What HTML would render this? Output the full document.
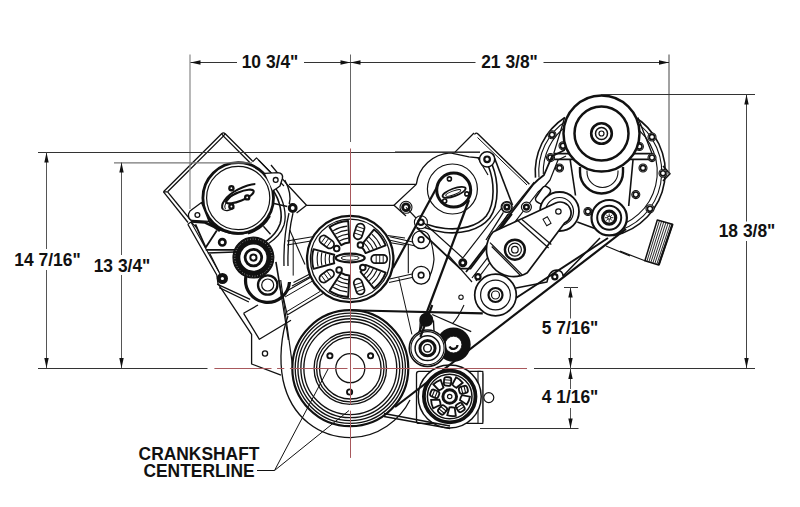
<!DOCTYPE html>
<html><head><meta charset="utf-8">
<style>
html,body{margin:0;padding:0;background:#fff;width:800px;height:507px;overflow:hidden}
svg{display:block}
text{font-family:"Liberation Sans",sans-serif;font-weight:bold;fill:#111}
</style></head>
<body>
<svg width="800" height="507" viewBox="0 0 800 507">
<path d="M163.5,191.8 L221.6,133.7 Q223.4,131.9 225.2,133.7 L252.5,161" fill="none" stroke="#111" stroke-width="1.3" stroke-linejoin="round" />
<path d="M167.6,191.8 L223.4,136.1 L250,162.7" fill="none" stroke="#111" stroke-width="1.3" stroke-linejoin="round" />
<path d="M163.5,191.8 L188,222.5" fill="none" stroke="#111" stroke-width="1.3" stroke-linejoin="round" />
<path d="M167.6,191.8 L191,220.5" fill="none" stroke="#111" stroke-width="1.3" stroke-linejoin="round" />
<path d="M221.6,133.7 L223.4,136.1 L225.2,133.7 M163.5,191.8 L167.6,191.8" fill="none" stroke="#111" stroke-width="1.2" stroke-linejoin="round" />
<path d="M252.5,161.8 L256.5,157.8 L278,180" fill="none" stroke="#111" stroke-width="1.2" stroke-linejoin="round" />
<line x1="258.50" y1="160.00" x2="284.00" y2="186.00" stroke="#111" stroke-width="1.1" />
<path d="M187.8,224.3 L191,222 L197,228" fill="none" stroke="#111" stroke-width="1.1" stroke-linejoin="round" />
<path d="M187.8,224.3 L216.8,275 L218,283.6 L251.6,334.4 L251.6,364 L281,375.2" fill="none" stroke="#111" stroke-width="1.3" stroke-linejoin="round" />
<path d="M191.5,223 L219,272" fill="none" stroke="#111" stroke-width="1.1" stroke-linejoin="round" />
<path d="M217.1,284.2 L250.2,299.4 M219.2,287.6 L248.9,302" fill="none" stroke="#111" stroke-width="1.3" stroke-linejoin="round" />
<path d="M243.6,313.3 L258,305" fill="none" stroke="#111" stroke-width="1.3" stroke-linejoin="round" />
<path d="M243.6,313.3 L259.4,339.3 L291,320.2" fill="none" stroke="#111" stroke-width="1.3" stroke-linejoin="round" />
<circle cx="265.00" cy="353.50" r="2.60" fill="#fff" stroke="#111" stroke-width="1.3" />
<path d="M195.4,224.3 L205.7,247.5 L216.8,230.5" fill="none" stroke="#111" stroke-width="1.8" stroke-linejoin="round" />
<path d="M205.7,249.9 L236,249.9 M207.8,253 L235,252" fill="none" stroke="#111" stroke-width="1.6" stroke-linejoin="round" />
<path d="M 258,227 A 37.5 37.5 0 0 1 205,216" fill="none" stroke="#111" stroke-width="2.0" stroke-linejoin="round" />
<circle cx="222.30" cy="242.30" r="3.20" fill="#fff" stroke="#111" stroke-width="2.6" />
<circle cx="222.40" cy="278.50" r="3.60" fill="#fff" stroke="#111" stroke-width="4.0" />
<path d="M210,254 L220,274" fill="none" stroke="#111" stroke-width="1.2" stroke-linejoin="round" />
<polygon points="282.50,293.60 312.00,276.50 323.90,293.00 287.20,314.90" fill="#fff" stroke="#111" stroke-width="1.2" stroke-linejoin="round"/>
<line x1="285.00" y1="297.00" x2="316.00" y2="279.00" stroke="#111" stroke-width="1.0" />
<line x1="287.00" y1="311.50" x2="320.00" y2="291.50" stroke="#111" stroke-width="1.0" />
<line x1="289.00" y1="184.40" x2="416.30" y2="184.40" stroke="#111" stroke-width="1.3" />
<line x1="306.50" y1="205.30" x2="394.00" y2="205.30" stroke="#111" stroke-width="1.3" />
<path d="M271,165 L287,184.3 L306.5,205.3 L296.6,213" fill="none" stroke="#111" stroke-width="1.3" stroke-linejoin="round" />
<path d="M474,133 L455,152.1 M416.3,184.4 L394,205.3 L406,216" fill="none" stroke="#111" stroke-width="1.3" stroke-linejoin="round" />
<path d="M287,241 L320,235.5 M287,245 L320,239.5" fill="none" stroke="#111" stroke-width="1.1" stroke-linejoin="round" />
<path d="M293.5,282.5 L314.6,271.4 M292,286 L313,275" fill="none" stroke="#111" stroke-width="1.1" stroke-linejoin="round" />
<line x1="293.20" y1="238.30" x2="293.20" y2="275.60" stroke="#111" stroke-width="1.0" />
<line x1="289.70" y1="230.00" x2="305.00" y2="264.50" stroke="#111" stroke-width="1.1" />
<path d="M387.7,235.5 L405,238 M386,242 L404,245" fill="none" stroke="#111" stroke-width="1.1" stroke-linejoin="round" />
<path d="M389.6,236.8 L425,244.7 M389,240 L422,247.5 M389.6,279 L429,270.3 M389,282.5 L428,274" fill="none" stroke="#111" stroke-width="1.1" stroke-linejoin="round" />
<path d="M421.1,231 Q432,232 434,259.4 Q432,280 421.1,284" fill="#fff" stroke="#111" stroke-width="1.2" stroke-linejoin="round" />
<line x1="408.30" y1="243.70" x2="408.30" y2="273.30" stroke="#111" stroke-width="1.1" />
<circle cx="421.10" cy="239.70" r="8.90" fill="#fff" stroke="#111" stroke-width="1.3" />
<circle cx="421.10" cy="239.70" r="2.80" fill="#fff" stroke="#111" stroke-width="1.6" />
<path d="M272.8,190 C280,200 283,215 280,224 C277,232 271,238 265.6,241.5" fill="none" stroke="#111" stroke-width="1.6" stroke-linejoin="round" />
<path d="M276,189 C284,200 287,215 284,225 C281,234 274,240 268,244" fill="none" stroke="#111" stroke-width="1.3" stroke-linejoin="round" />
<path d="M289,213 C285,230 283.5,245 284,266 M293,213 C289,230 287.5,245 288,266" fill="none" stroke="#111" stroke-width="1.3" stroke-linejoin="round" />
<circle cx="238.20" cy="198.00" r="35.30" fill="#fff" stroke="#111" stroke-width="2.8" />
<circle cx="238.20" cy="198.00" r="31.60" fill="none" stroke="#111" stroke-width="1.2" />
<path d="M190,211 L201.5,202.5 L209,221.3 L192,220.5 Q188,219 188.5,214 Z" fill="#fff" stroke="#111" stroke-width="1.3" stroke-linejoin="round" />
<path d="M191,221.5 L205,222.5 Q214,226 220,231" fill="none" stroke="#111" stroke-width="2.6" stroke-linejoin="round" />
<circle cx="197.40" cy="215.00" r="2.40" fill="#fff" stroke="#111" stroke-width="1.3" />
<path d="M265,173.4 L277.6,172.6 Q283.5,173 282.4,178.5 L280,186 Q276,189 272.9,190.8" fill="#fff" stroke="#111" stroke-width="1.4" stroke-linejoin="round" />
<path d="M284.8,180 C290,190 291,198 289.2,204" fill="none" stroke="#111" stroke-width="1.4" stroke-linejoin="round" />
<path d="M274,203.5 L287.3,206.5" fill="none" stroke="#111" stroke-width="1.4" stroke-linejoin="round" />
<path d="M263.4,226.3 L270.5,234.2" fill="none" stroke="#111" stroke-width="1.4" stroke-linejoin="round" />
<path d="M 270,216 A 37.5 37.5 0 0 1 248,233.5" fill="none" stroke="#111" stroke-width="2.0" stroke-linejoin="round" />
<circle cx="275.70" cy="179.90" r="2.40" fill="#fff" stroke="#111" stroke-width="1.3" />
<g transform="translate(239.3,196.4) rotate(-22)">
<ellipse cx="0.5" cy="0.3" rx="14.8" ry="4.4" fill="none" stroke="#111" stroke-width="2.1"/>
<path d="M-20,6 C-21.5,0.5 -12,-5.5 1,-6.8 C9,-7.5 15,-7.2 19.5,-5.5" fill="none" stroke="#111" stroke-width="2.0"/>
<path d="M-17.5,6.5 C-18.5,2.5 -11,-3.2 -1,-4.6" fill="none" stroke="#111" stroke-width="1.0"/>
<path d="M-20,6 C-18,9 -13,9.5 -9,8.5" fill="none" stroke="#111" stroke-width="1.4"/>
</g>
<circle cx="231.40" cy="188.20" r="3.20" fill="#111" stroke="none" stroke-width="0" />
<circle cx="231.40" cy="188.20" r="0.90" fill="#fff" stroke="none" stroke-width="0" />
<circle cx="247.20" cy="197.40" r="3.20" fill="#111" stroke="none" stroke-width="0" />
<circle cx="247.20" cy="197.40" r="0.90" fill="#fff" stroke="none" stroke-width="0" />
<circle cx="231.40" cy="206.50" r="3.20" fill="#111" stroke="none" stroke-width="0" />
<circle cx="231.40" cy="206.50" r="0.90" fill="#fff" stroke="none" stroke-width="0" />
<circle cx="292.70" cy="208.00" r="3.40" fill="#fff" stroke="#111" stroke-width="3.0" />
<path d="M246,276 A22 22 0 1 0 289.5,282" fill="#fff" stroke="#111" stroke-width="3.2" stroke-linejoin="round" />
<circle cx="267.70" cy="285.00" r="9.70" fill="#fff" stroke="#111" stroke-width="2.3" />
<circle cx="267.70" cy="285.00" r="6.00" fill="none" stroke="#111" stroke-width="1.2" />
<circle cx="253.40" cy="257.60" r="20.40" fill="#fff" stroke="#111" stroke-width="1.2" />
<circle cx="253.40" cy="257.60" r="16.75" fill="none" stroke="#111" stroke-width="7.3" />
<circle cx="253.40" cy="257.60" r="18.60" fill="none" stroke="#fff" stroke-width="0.7" stroke-dasharray="0.7,2"/>
<circle cx="253.40" cy="257.60" r="8.30" fill="none" stroke="#111" stroke-width="2.8" />
<circle cx="253.40" cy="257.60" r="3.10" fill="none" stroke="#111" stroke-width="2.0" />
<line x1="278.90" y1="280.00" x2="288.40" y2="340.00" stroke="#111" stroke-width="1.2" />
<line x1="280.70" y1="280.00" x2="293.00" y2="369.00" stroke="#111" stroke-width="1.2" />
<line x1="275.90" y1="261.80" x2="282.10" y2="299.00" stroke="#111" stroke-width="1.6" />
<path d="M288,316 C281,335 279,360 283,380 C291,418 320,437.5 350.6,437.6 C378,437.5 400,420 410,400" fill="none" stroke="#111" stroke-width="1.3" stroke-linejoin="round" />
<circle cx="350.20" cy="259.00" r="43.20" fill="#fff" stroke="#111" stroke-width="2.3" />
<circle cx="350.20" cy="259.00" r="39.80" fill="none" stroke="#111" stroke-width="1.3" />
<path d="M365.60,264.91 L385.68,272.62 A38 38 0 0 1 374.11,288.53 L360.58,271.82 A16.5 16.5 0 0 0 365.60,264.91 Z" fill="#fff" stroke="#111" stroke-width="1.9" stroke-linejoin="round" />
<path d="M369.53,267.21 A21 21 0 0 1 363.98,274.85" fill="none" stroke="#111" stroke-width="1.1" stroke-linejoin="round" />
<path d="M373.21,268.77 A25 25 0 0 1 366.60,277.87" fill="none" stroke="#111" stroke-width="1.1" stroke-linejoin="round" />
<path d="M376.89,270.33 A29 29 0 0 1 369.23,280.89" fill="none" stroke="#111" stroke-width="1.1" stroke-linejoin="round" />
<path d="M380.58,271.89 A33 33 0 0 1 371.85,283.91" fill="none" stroke="#111" stroke-width="1.1" stroke-linejoin="round" />
<path d="M349.34,275.48 L348.21,296.95 A38 38 0 0 1 329.50,290.87 L341.21,272.84 A16.5 16.5 0 0 0 349.34,275.48 Z" fill="#fff" stroke="#111" stroke-width="1.9" stroke-linejoin="round" />
<path d="M348.37,279.92 A21 21 0 0 1 339.38,277.00" fill="none" stroke="#111" stroke-width="1.1" stroke-linejoin="round" />
<path d="M348.02,283.90 A25 25 0 0 1 337.32,280.43" fill="none" stroke="#111" stroke-width="1.1" stroke-linejoin="round" />
<path d="M347.67,287.89 A29 29 0 0 1 335.26,283.86" fill="none" stroke="#111" stroke-width="1.1" stroke-linejoin="round" />
<path d="M347.32,291.87 A33 33 0 0 1 333.20,287.29" fill="none" stroke="#111" stroke-width="1.1" stroke-linejoin="round" />
<path d="M334.26,263.27 L313.49,268.84 A38 38 0 0 1 313.49,249.16 L334.26,254.73 A16.5 16.5 0 0 0 334.26,263.27 Z" fill="#fff" stroke="#111" stroke-width="1.9" stroke-linejoin="round" />
<path d="M329.74,263.72 A21 21 0 0 1 329.74,254.28" fill="none" stroke="#111" stroke-width="1.1" stroke-linejoin="round" />
<path d="M325.84,264.62 A25 25 0 0 1 325.84,253.38" fill="none" stroke="#111" stroke-width="1.1" stroke-linejoin="round" />
<path d="M321.94,265.52 A29 29 0 0 1 321.94,252.48" fill="none" stroke="#111" stroke-width="1.1" stroke-linejoin="round" />
<path d="M318.05,266.42 A33 33 0 0 1 318.05,251.58" fill="none" stroke="#111" stroke-width="1.1" stroke-linejoin="round" />
<path d="M341.21,245.16 L329.50,227.13 A38 38 0 0 1 348.21,221.05 L349.34,242.52 A16.5 16.5 0 0 0 341.21,245.16 Z" fill="#fff" stroke="#111" stroke-width="1.9" stroke-linejoin="round" />
<path d="M339.38,241.00 A21 21 0 0 1 348.37,238.08" fill="none" stroke="#111" stroke-width="1.1" stroke-linejoin="round" />
<path d="M337.32,237.57 A25 25 0 0 1 348.02,234.10" fill="none" stroke="#111" stroke-width="1.1" stroke-linejoin="round" />
<path d="M335.26,234.14 A29 29 0 0 1 347.67,230.11" fill="none" stroke="#111" stroke-width="1.1" stroke-linejoin="round" />
<path d="M333.20,230.71 A33 33 0 0 1 347.32,226.13" fill="none" stroke="#111" stroke-width="1.1" stroke-linejoin="round" />
<path d="M360.58,246.18 L374.11,229.47 A38 38 0 0 1 385.68,245.38 L365.60,253.09 A16.5 16.5 0 0 0 360.58,246.18 Z" fill="#fff" stroke="#111" stroke-width="1.9" stroke-linejoin="round" />
<path d="M363.98,243.15 A21 21 0 0 1 369.53,250.79" fill="none" stroke="#111" stroke-width="1.1" stroke-linejoin="round" />
<path d="M366.60,240.13 A25 25 0 0 1 373.21,249.23" fill="none" stroke="#111" stroke-width="1.1" stroke-linejoin="round" />
<path d="M369.23,237.11 A29 29 0 0 1 376.89,247.67" fill="none" stroke="#111" stroke-width="1.1" stroke-linejoin="round" />
<path d="M371.85,234.09 A33 33 0 0 1 380.58,246.11" fill="none" stroke="#111" stroke-width="1.1" stroke-linejoin="round" />
<g transform="translate(379.20,259.00) rotate(0)">
<rect x="-8" y="-4.2" width="16" height="8.4" rx="4" fill="#fff" stroke="#111" stroke-width="1.7"/>
<path d="M-3,-4 V4 M0.5,-4.2 V4.2 M4,-3.8 V3.8" stroke="#111" stroke-width="0.9"/>
</g>
<g transform="translate(359.16,286.58) rotate(72)">
<rect x="-8" y="-4.2" width="16" height="8.4" rx="4" fill="#fff" stroke="#111" stroke-width="1.7"/>
<path d="M-3,-4 V4 M0.5,-4.2 V4.2 M4,-3.8 V3.8" stroke="#111" stroke-width="0.9"/>
</g>
<g transform="translate(326.74,276.05) rotate(144)">
<rect x="-8" y="-4.2" width="16" height="8.4" rx="4" fill="#fff" stroke="#111" stroke-width="1.7"/>
<path d="M-3,-4 V4 M0.5,-4.2 V4.2 M4,-3.8 V3.8" stroke="#111" stroke-width="0.9"/>
</g>
<g transform="translate(326.74,241.95) rotate(216)">
<rect x="-8" y="-4.2" width="16" height="8.4" rx="4" fill="#fff" stroke="#111" stroke-width="1.7"/>
<path d="M-3,-4 V4 M0.5,-4.2 V4.2 M4,-3.8 V3.8" stroke="#111" stroke-width="0.9"/>
</g>
<g transform="translate(359.16,231.42) rotate(288)">
<rect x="-8" y="-4.2" width="16" height="8.4" rx="4" fill="#fff" stroke="#111" stroke-width="1.7"/>
<path d="M-3,-4 V4 M0.5,-4.2 V4.2 M4,-3.8 V3.8" stroke="#111" stroke-width="0.9"/>
</g>
<ellipse cx="350.2" cy="258.0" rx="14.5" ry="4.3" fill="#fff" stroke="#111" stroke-width="2.2"/>
<ellipse cx="350.2" cy="258.0" rx="9" ry="2.2" fill="none" stroke="#111" stroke-width="1"/>
<circle cx="336.70" cy="248.60" r="2.80" fill="#fff" stroke="#111" stroke-width="1.9" />
<circle cx="360.40" cy="245.00" r="2.80" fill="#fff" stroke="#111" stroke-width="1.9" />
<circle cx="339.10" cy="269.90" r="2.80" fill="#fff" stroke="#111" stroke-width="1.9" />
<circle cx="362.80" cy="267.50" r="2.80" fill="#fff" stroke="#111" stroke-width="1.9" />
<circle cx="350.30" cy="368.20" r="58.00" fill="#fff" stroke="#111" stroke-width="2.2" />
<circle cx="350.30" cy="368.20" r="55.10" fill="none" stroke="#111" stroke-width="1.35" />
<circle cx="350.30" cy="368.20" r="52.40" fill="none" stroke="#111" stroke-width="1.35" />
<circle cx="350.30" cy="368.20" r="49.45" fill="none" stroke="#111" stroke-width="1.35" />
<circle cx="350.30" cy="368.20" r="46.45" fill="none" stroke="#111" stroke-width="1.35" />
<circle cx="350.30" cy="368.20" r="36.20" fill="none" stroke="#111" stroke-width="1.35" />
<circle cx="350.30" cy="368.20" r="33.70" fill="none" stroke="#111" stroke-width="1.35" />
<circle cx="350.30" cy="368.20" r="30.80" fill="none" stroke="#111" stroke-width="1.35" />
<circle cx="350.30" cy="368.20" r="14.50" fill="none" stroke="#111" stroke-width="1.3" />
<circle cx="329.90" cy="355.80" r="2.60" fill="#fff" stroke="#111" stroke-width="1.9" />
<circle cx="370.60" cy="355.80" r="2.60" fill="#fff" stroke="#111" stroke-width="1.9" />
<circle cx="349.60" cy="392.00" r="2.60" fill="#fff" stroke="#111" stroke-width="1.9" />
<line x1="350.00" y1="310.20" x2="482.80" y2="313.40" stroke="#111" stroke-width="2.1" />
<path d="M 416.3,184.4 A 36.5 36.5 0 0 1 450.2,152.9 L 469,156.8 L 480,158" fill="none" stroke="#111" stroke-width="1.3" stroke-linejoin="round" />
<path d="M 395,152.1 L 480,152.1" fill="none" stroke="#111" stroke-width="1.2" stroke-linejoin="round" />
<circle cx="452.40" cy="189.00" r="25.00" fill="none" stroke="#111" stroke-width="1.2" />
<path d="M 474.5,134.5 Q476,132 478,134 L 529.4,184.2" fill="none" stroke="#111" stroke-width="1.4" stroke-linejoin="round" />
<path d="M 477.5,137.5 L 527,185" fill="none" stroke="#111" stroke-width="1.0" stroke-linejoin="round" />
<path d="M 490.5,166 C 496,180 498,203 488,217 C 478,229 460,232 445,230.5 C 436,229.5 430,227.5 426,226" fill="none" stroke="#111" stroke-width="5.6" stroke-linecap="round"/>
<path d="M 490.5,166 C 496,180 498,203 488,217 C 478,229 460,232 445,230.5 C 436,229.5 430,227.5 426,226" fill="none" stroke="#fff" stroke-width="2.4" stroke-linecap="round"/>
<path d="M 478,158 L 488,175" fill="none" stroke="#111" stroke-width="1.2" stroke-linejoin="round" />
<path d="M 493,154 L 512.5,205" fill="none" stroke="#111" stroke-width="1.6" stroke-linejoin="round" />
<circle cx="487.10" cy="159.30" r="7.60" fill="#fff" stroke="#111" stroke-width="1.5" />
<circle cx="487.10" cy="159.30" r="2.80" fill="#fff" stroke="#111" stroke-width="2.2" />
<circle cx="420.90" cy="222.20" r="6.50" fill="#fff" stroke="#111" stroke-width="1.1" />
<circle cx="420.90" cy="222.20" r="2.80" fill="#fff" stroke="#111" stroke-width="2.0" />
<circle cx="406.00" cy="207.30" r="6.00" fill="#fff" stroke="#111" stroke-width="1.1" />
<circle cx="406.00" cy="207.30" r="3.40" fill="#fff" stroke="#111" stroke-width="2.8" />
<line x1="437.00" y1="187.00" x2="393.00" y2="268.00" stroke="#111" stroke-width="2.2" />
<line x1="469.00" y1="200.00" x2="419.00" y2="333.00" stroke="#111" stroke-width="2.2" />
<circle cx="453.70" cy="190.10" r="17.00" fill="#fff" stroke="#111" stroke-width="3.0" />
<g transform="translate(454.1,192.3) rotate(-20)">
<ellipse cx="0" cy="0" rx="12.2" ry="3.8" fill="none" stroke="#111" stroke-width="1.8"/>
<ellipse cx="-1" cy="0.3" rx="8" ry="1.9" fill="none" stroke="#111" stroke-width="1"/>
</g>
<circle cx="449.40" cy="178.90" r="2.00" fill="#fff" stroke="#111" stroke-width="1.6" />
<circle cx="466.80" cy="193.90" r="2.00" fill="#fff" stroke="#111" stroke-width="1.6" />
<circle cx="444.70" cy="201.00" r="2.00" fill="#fff" stroke="#111" stroke-width="1.6" />
<circle cx="506.60" cy="207.00" r="5.50" fill="#fff" stroke="#111" stroke-width="1.1" />
<circle cx="506.60" cy="207.00" r="3.20" fill="#fff" stroke="#111" stroke-width="3.0" />
<path d="M503.4,212.4 L486,240 M508,214 L491,242" fill="none" stroke="#111" stroke-width="1.3" stroke-linejoin="round" />
<path d="M416.7,227.6 L460.3,268.7 L470.4,268.7 L512,214" fill="none" stroke="#111" stroke-width="1.8" stroke-linejoin="round" />
<path d="M424,223 L462.8,258 L504,205" fill="none" stroke="#111" stroke-width="1.2" stroke-linejoin="round" />
<path d="M448.6,255.3 L472,282" fill="none" stroke="#111" stroke-width="1.2" stroke-linejoin="round" />
<circle cx="462.80" cy="262.80" r="3.00" fill="#fff" stroke="#111" stroke-width="3.0" />
<circle cx="461.00" cy="297.20" r="2.20" fill="none" stroke="#111" stroke-width="1.1" />
<path d="M406,207.3 L416,218" fill="none" stroke="#111" stroke-width="1.2" stroke-linejoin="round" />
<circle cx="421.10" cy="275.20" r="8.90" fill="#fff" stroke="#111" stroke-width="1.3" />
<circle cx="421.10" cy="275.20" r="2.80" fill="#fff" stroke="#111" stroke-width="1.6" />
<line x1="398.80" y1="277.50" x2="411.90" y2="334.40" stroke="#111" stroke-width="1.0" />
<path d="M 535.50,177.67 A 65 65 0 0 1 564.85,117.49" fill="none" stroke="#111" stroke-width="1.6" stroke-linejoin="round" />
<path d="M 538.98,177.36 A 61.5 61.5 0 0 1 566.75,120.42" fill="none" stroke="#111" stroke-width="1.1" stroke-linejoin="round" />
<path d="M 543.28,173.99 A 57 57 0 0 1 567.56,125.31" fill="none" stroke="#111" stroke-width="1.1" stroke-linejoin="round" />
<path d="M 632.75,115.71 A 65 65 0 0 1 613.76,235.58 L 577.3,222" fill="none" stroke="#111" stroke-width="1.6" stroke-linejoin="round" />
<path d="M 632.84,119.85 A 61.5 61.5 0 0 1 610.93,232.57" fill="none" stroke="#111" stroke-width="1.1" stroke-linejoin="round" />
<path d="M 632.94,125.31 A 57 57 0 0 1 608.18,228.45" fill="none" stroke="#111" stroke-width="1.1" stroke-linejoin="round" />
<path d="M 663,166 L670,173.7 L663,181" fill="none" stroke="#111" stroke-width="1.6" stroke-linejoin="round" />
<path d="M 564.7,117.4 L 553.7,153.6 M 637.9,117.4 L 652,153.6" fill="none" stroke="#111" stroke-width="1.3" stroke-linejoin="round" />
<line x1="553.70" y1="153.60" x2="652.00" y2="153.60" stroke="#111" stroke-width="1.6" />
<line x1="553.70" y1="159.40" x2="652.00" y2="159.40" stroke="#111" stroke-width="1.6" />
<path d="M 580,167 L580,172 A 21.5 21.5 0 0 0 623,172 L623,167" fill="none" stroke="#111" stroke-width="2.4" stroke-linejoin="round" />
<path d="M 587,170.6 L587,172 A 15.5 15.5 0 0 0 618,172 L618,170.6" fill="none" stroke="#111" stroke-width="1.1" stroke-linejoin="round" />
<circle cx="552.00" cy="134.70" r="4.00" fill="#fff" stroke="#111" stroke-width="1.1" />
<circle cx="552.00" cy="134.70" r="2.60" fill="#fff" stroke="#111" stroke-width="1.6" />
<circle cx="550.50" cy="157.60" r="4.00" fill="#fff" stroke="#111" stroke-width="1.1" />
<circle cx="550.50" cy="157.60" r="2.60" fill="#fff" stroke="#111" stroke-width="1.6" />
<circle cx="652.00" cy="137.00" r="4.00" fill="#fff" stroke="#111" stroke-width="1.1" />
<circle cx="652.00" cy="137.00" r="2.60" fill="#fff" stroke="#111" stroke-width="1.6" />
<circle cx="663.00" cy="173.30" r="4.00" fill="#fff" stroke="#111" stroke-width="1.1" />
<circle cx="663.00" cy="173.30" r="2.60" fill="#fff" stroke="#111" stroke-width="1.6" />
<circle cx="652.00" cy="157.60" r="4.00" fill="#fff" stroke="#111" stroke-width="1.1" />
<circle cx="652.00" cy="157.60" r="2.60" fill="#fff" stroke="#111" stroke-width="1.6" />
<circle cx="559.50" cy="168.00" r="4.00" fill="#fff" stroke="#111" stroke-width="1.1" />
<circle cx="559.50" cy="168.00" r="2.60" fill="#fff" stroke="#111" stroke-width="1.6" />
<circle cx="643.00" cy="168.00" r="4.00" fill="#fff" stroke="#111" stroke-width="1.1" />
<circle cx="643.00" cy="168.00" r="2.60" fill="#fff" stroke="#111" stroke-width="1.6" />
<circle cx="563.00" cy="145.70" r="4.00" fill="#fff" stroke="#111" stroke-width="1.1" />
<circle cx="563.00" cy="145.70" r="2.60" fill="#fff" stroke="#111" stroke-width="1.6" />
<circle cx="639.40" cy="146.50" r="4.00" fill="#fff" stroke="#111" stroke-width="1.1" />
<circle cx="639.40" cy="146.50" r="2.60" fill="#fff" stroke="#111" stroke-width="1.6" />
<circle cx="635.80" cy="194.60" r="4.00" fill="#fff" stroke="#111" stroke-width="1.1" />
<circle cx="635.80" cy="194.60" r="2.60" fill="#fff" stroke="#111" stroke-width="1.6" />
<circle cx="587.90" cy="211.50" r="4.00" fill="#fff" stroke="#111" stroke-width="1.1" />
<circle cx="587.90" cy="211.50" r="2.60" fill="#fff" stroke="#111" stroke-width="1.6" />
<circle cx="650.00" cy="208.80" r="4.00" fill="#fff" stroke="#111" stroke-width="1.1" />
<circle cx="650.00" cy="208.80" r="2.60" fill="#fff" stroke="#111" stroke-width="1.6" />
<line x1="570.20" y1="160.00" x2="575.50" y2="195.50" stroke="#111" stroke-width="1.6" />
<line x1="633.00" y1="160.00" x2="628.70" y2="206.00" stroke="#111" stroke-width="1.6" />
<line x1="620.00" y1="251.10" x2="644.90" y2="260.80" stroke="#111" stroke-width="1.2" />
<polygon points="657.30,220.00 672.50,224.20 658.70,265.00 644.90,260.80" fill="#fff" stroke="#111" stroke-width="1.5" stroke-linejoin="round"/>
<line x1="659.47" y1="220.60" x2="646.87" y2="261.40" stroke="#111" stroke-width="0.9" />
<line x1="661.64" y1="221.20" x2="648.84" y2="262.00" stroke="#111" stroke-width="0.9" />
<line x1="663.81" y1="221.80" x2="650.81" y2="262.60" stroke="#111" stroke-width="0.9" />
<line x1="665.99" y1="222.40" x2="652.79" y2="263.20" stroke="#111" stroke-width="0.9" />
<line x1="668.16" y1="223.00" x2="654.76" y2="263.80" stroke="#111" stroke-width="0.9" />
<line x1="670.33" y1="223.60" x2="656.73" y2="264.40" stroke="#111" stroke-width="0.9" />
<line x1="672.50" y1="224.20" x2="658.70" y2="265.00" stroke="#111" stroke-width="2.2" />
<circle cx="601.50" cy="133.50" r="38.00" fill="#fff" stroke="#111" stroke-width="2.5" />
<circle cx="601.50" cy="133.50" r="27.00" fill="none" stroke="#111" stroke-width="2.5" />
<circle cx="601.50" cy="133.50" r="10.30" fill="none" stroke="#111" stroke-width="2.6" />
<circle cx="601.50" cy="133.50" r="6.00" fill="none" stroke="#111" stroke-width="1.5" />
<circle cx="601.50" cy="133.50" r="2.50" fill="none" stroke="#111" stroke-width="1.2" />
<path d="M466,272 L533,184.7 L537.8,180 L544,175 L552,156.3 L564.7,150" fill="none" stroke="#111" stroke-width="1.8" stroke-linejoin="round" />
<path d="M472,278 L538,192 L545,186 L550,180 L558,160 L566,156" fill="none" stroke="#111" stroke-width="1.2" stroke-linejoin="round" />
<path d="M490,237.3 L534.2,182" fill="none" stroke="#111" stroke-width="1.2" stroke-linejoin="round" />
<path d="M476,281 L516,228" fill="none" stroke="#111" stroke-width="1.2" stroke-linejoin="round" />
<rect x="-4.5" y="-9" width="9" height="18" rx="3.5" fill="#fff" stroke="#111" stroke-width="1.6" transform="translate(543,195) rotate(35)"/>
<circle cx="559.50" cy="211.50" r="19.50" fill="#fff" stroke="#111" stroke-width="1.8" />
<circle cx="559.50" cy="211.50" r="14.00" fill="none" stroke="#111" stroke-width="1.2" />
<path d="M493,232 L555.7,203 A9.8 9.8 0 0 1 564.6,223 L527.3,272.8 A27 27 0 0 1 493,232 Z" fill="#fff" stroke="#111" stroke-width="1.7" stroke-linejoin="round" />
<line x1="516.60" y1="219.50" x2="548.60" y2="248.00" stroke="#111" stroke-width="1.3" />
<line x1="522.00" y1="219.50" x2="551.30" y2="244.40" stroke="#111" stroke-width="1.3" />
<line x1="490.00" y1="242.60" x2="522.00" y2="274.60" stroke="#111" stroke-width="1.3" />
<line x1="491.80" y1="246.50" x2="520.00" y2="275.00" stroke="#111" stroke-width="1.3" />
<circle cx="514.90" cy="249.70" r="10.00" fill="#fff" stroke="#111" stroke-width="2.4" />
<circle cx="514.90" cy="249.70" r="6.50" fill="none" stroke="#111" stroke-width="1.2" />
<circle cx="514.90" cy="249.70" r="3.30" fill="none" stroke="#111" stroke-width="1.2" />
<circle cx="506.90" cy="207.10" r="5.00" fill="#fff" stroke="#111" stroke-width="1.2" />
<circle cx="506.90" cy="207.10" r="2.40" fill="#fff" stroke="#111" stroke-width="2.6" />
<circle cx="526.40" cy="207.10" r="5.00" fill="#fff" stroke="#111" stroke-width="1.2" />
<circle cx="526.40" cy="207.10" r="2.40" fill="#fff" stroke="#111" stroke-width="2.4" />
<circle cx="477.90" cy="276.80" r="2.60" fill="#fff" stroke="#111" stroke-width="2.2" />
<circle cx="554.80" cy="276.80" r="2.60" fill="#fff" stroke="#111" stroke-width="2.2" />
<circle cx="558.40" cy="211.50" r="2.70" fill="none" stroke="#111" stroke-width="1.2" />
<rect x="544.5" y="217.5" width="5" height="7.5" fill="none" stroke="#111" stroke-width="1" transform="rotate(-30 547 221.2)"/>
<circle cx="609.20" cy="217.70" r="17.70" fill="#fff" stroke="#111" stroke-width="2.2" />
<circle cx="609.20" cy="217.70" r="12.00" fill="none" stroke="#111" stroke-width="2.0" />
<circle cx="609.20" cy="217.70" r="6.50" fill="#fff" stroke="#111" stroke-width="3.2" />
<path d="M605,217.7 H613.4 M609.2,213.5 V221.9 M606.2,214.7 L612.2,220.7 M612.2,214.7 L606.2,220.7" stroke="#111" stroke-width="0.9"/>
<circle cx="609.20" cy="217.70" r="1.50" fill="#fff" stroke="#111" stroke-width="1" />
<path d="M516,298 L608,238" fill="none" stroke="#111" stroke-width="2.0" stroke-linejoin="round" />
<path d="M516,288 L547,282 Q549,270 557,270 Q563,271 563,276 L600,238" fill="none" stroke="#111" stroke-width="1.5" stroke-linejoin="round" />
<path d="M606,246 L630,256" fill="none" stroke="#111" stroke-width="1.2" stroke-linejoin="round" />
<circle cx="495.50" cy="295.00" r="20.80" fill="#fff" stroke="#111" stroke-width="1.7" />
<circle cx="495.50" cy="295.00" r="14.90" fill="none" stroke="#111" stroke-width="1.2" />
<circle cx="495.50" cy="295.00" r="7.00" fill="none" stroke="#111" stroke-width="2.2" />
<circle cx="495.50" cy="295.00" r="4.00" fill="none" stroke="#111" stroke-width="1.2" />
<path d="M420.4,320.4 L419.8,331 M433.4,320.4 L434,331" fill="none" stroke="#111" stroke-width="1.4" stroke-linejoin="round" />
<path d="M432.2,314.5 L471.2,331.6" fill="none" stroke="#111" stroke-width="1.2" stroke-linejoin="round" />
<path d="M464,305 Q458,318 452.3,323.9" fill="none" stroke="#111" stroke-width="1.1" stroke-linejoin="round" />
<circle cx="426.30" cy="319.80" r="5.50" fill="#111" stroke="#111" stroke-width="3.0" />
<circle cx="453.50" cy="344.60" r="12.80" fill="#fff" stroke="#111" stroke-width="8.8" />
<circle cx="453.50" cy="344.60" r="8.40" fill="none" stroke="#111" stroke-width="0.8" />
<path d="M449.5,346.5 A4.2 4.2 0 0 0 457.5,345" fill="none" stroke="#111" stroke-width="2.2" stroke-linejoin="round" />
<circle cx="427.50" cy="348.20" r="18.30" fill="#fff" stroke="#111" stroke-width="1.5" />
<circle cx="427.50" cy="348.20" r="16.60" fill="none" stroke="#111" stroke-width="1.1" />
<circle cx="427.50" cy="348.20" r="12.40" fill="none" stroke="#111" stroke-width="1.5" />
<circle cx="427.50" cy="348.20" r="7.60" fill="none" stroke="#111" stroke-width="3.0" />
<circle cx="427.50" cy="348.20" r="3.80" fill="none" stroke="#111" stroke-width="1.4" />
<line x1="432.20" y1="305.00" x2="420.40" y2="337.00" stroke="#111" stroke-width="2.2" />
<rect x="416.5" y="371.4" width="66.3" height="52" rx="2.5" fill="#fff" stroke="#111" stroke-width="1.3"/>
<circle cx="488.80" cy="397.60" r="5.00" fill="#fff" stroke="#111" stroke-width="1.2" />
<rect x="478" y="371.4" width="4.8" height="52" fill="#fff" stroke="#111" stroke-width="1.1"/>
<circle cx="449.70" cy="396.50" r="31.50" fill="#fff" stroke="#111" stroke-width="1.5" />
<circle cx="449.70" cy="396.50" r="25.80" fill="none" stroke="#111" stroke-width="3.8" />
<circle cx="449.70" cy="396.50" r="22.30" fill="none" stroke="#111" stroke-width="1.5" />
<g transform="translate(464.67,399.14) rotate(112)"><path d="M-4.3,-4 Q0,-5 4.3,-4 L2.6,4 Q0,4.6 -2.6,4 Z" fill="#fff" stroke="#111" stroke-width="1.8"/></g>
<g transform="translate(460.26,407.43) rotate(148)"><rect x="-3.6" y="-4.3" width="7.2" height="8.6" rx="2.4" fill="#fff" stroke="#111" stroke-width="1.8"/><path d="M-3.4,-1.5 H3.4 M-3.4,1.5 H3.4" stroke="#111" stroke-width="1.1"/></g>
<g transform="translate(451.82,411.55) rotate(184)"><path d="M-4.3,-4 Q0,-5 4.3,-4 L2.6,4 Q0,4.6 -2.6,4 Z" fill="#fff" stroke="#111" stroke-width="1.8"/></g>
<g transform="translate(442.56,409.92) rotate(220)"><rect x="-3.6" y="-4.3" width="7.2" height="8.6" rx="2.4" fill="#fff" stroke="#111" stroke-width="1.8"/><path d="M-3.4,-1.5 H3.4 M-3.4,1.5 H3.4" stroke="#111" stroke-width="1.1"/></g>
<g transform="translate(436.04,403.16) rotate(256)"><path d="M-4.3,-4 Q0,-5 4.3,-4 L2.6,4 Q0,4.6 -2.6,4 Z" fill="#fff" stroke="#111" stroke-width="1.8"/></g>
<g transform="translate(434.73,393.86) rotate(292)"><rect x="-3.6" y="-4.3" width="7.2" height="8.6" rx="2.4" fill="#fff" stroke="#111" stroke-width="1.8"/><path d="M-3.4,-1.5 H3.4 M-3.4,1.5 H3.4" stroke="#111" stroke-width="1.1"/></g>
<g transform="translate(439.14,385.57) rotate(328)"><path d="M-4.3,-4 Q0,-5 4.3,-4 L2.6,4 Q0,4.6 -2.6,4 Z" fill="#fff" stroke="#111" stroke-width="1.8"/></g>
<g transform="translate(447.58,381.45) rotate(364)"><rect x="-3.6" y="-4.3" width="7.2" height="8.6" rx="2.4" fill="#fff" stroke="#111" stroke-width="1.8"/><path d="M-3.4,-1.5 H3.4 M-3.4,1.5 H3.4" stroke="#111" stroke-width="1.1"/></g>
<g transform="translate(456.84,383.08) rotate(400)"><path d="M-4.3,-4 Q0,-5 4.3,-4 L2.6,4 Q0,4.6 -2.6,4 Z" fill="#fff" stroke="#111" stroke-width="1.8"/></g>
<g transform="translate(463.36,389.84) rotate(436)"><rect x="-3.6" y="-4.3" width="7.2" height="8.6" rx="2.4" fill="#fff" stroke="#111" stroke-width="1.8"/><path d="M-3.4,-1.5 H3.4 M-3.4,1.5 H3.4" stroke="#111" stroke-width="1.1"/></g>
<circle cx="449.70" cy="396.50" r="6.80" fill="none" stroke="#111" stroke-width="3.0" />
<circle cx="449.70" cy="396.50" r="2.20" fill="none" stroke="#111" stroke-width="1.2" />
<line x1="384.00" y1="413.50" x2="450.00" y2="426.00" stroke="#111" stroke-width="1.3" />
<line x1="384.00" y1="416.50" x2="450.00" y2="428.50" stroke="#111" stroke-width="1.3" />
<line x1="395.00" y1="407.00" x2="626.00" y2="229.00" stroke="#111" stroke-width="2.2" />
<g fill="none" stroke="#333" stroke-width="1">
<!-- ===== dimension lines ===== -->
<!-- top -->
<line x1="190" y1="54.5" x2="190" y2="209" stroke="#888" stroke-width="1.2"/>
<line x1="350.5" y1="54.5" x2="350.5" y2="142" stroke="#666"/>
<line x1="669" y1="54.5" x2="669" y2="174" stroke="#444"/>
<line x1="190.5" y1="62.5" x2="237" y2="62.5"/>
<line x1="304" y1="62.5" x2="475.5" y2="62.5"/>
<line x1="543.5" y1="62.5" x2="669" y2="62.5"/>
<!-- left -->
<line x1="38" y1="152.5" x2="480" y2="152.5"/>
<line x1="114" y1="162.8" x2="252" y2="162.8" stroke="#777" stroke-width="1.3"/>
<line x1="46.5" y1="152.5" x2="46.5" y2="249" stroke="#555"/>
<line x1="46.5" y1="270" x2="46.5" y2="368" stroke="#555"/>
<line x1="121.5" y1="162.5" x2="121.5" y2="255" stroke="#555"/>
<line x1="121.5" y1="275" x2="121.5" y2="368" stroke="#555"/>
<line x1="38" y1="368.5" x2="207.5" y2="368.5"/>
<!-- right -->
<line x1="601" y1="94.5" x2="755" y2="94.5"/>
<line x1="746.5" y1="94.5" x2="746.5" y2="221.5" stroke="#444"/>
<line x1="746.5" y1="241" x2="746.5" y2="368" stroke="#444"/>
<line x1="534" y1="368.5" x2="755" y2="368.5"/>
<line x1="564" y1="287.5" x2="578" y2="287.5"/>
<line x1="570.5" y1="287" x2="570.5" y2="318.5" stroke="#555"/>
<line x1="570.5" y1="337.5" x2="570.5" y2="389" stroke="#555"/>
<line x1="570.5" y1="408" x2="570.5" y2="428" stroke="#555"/>
<line x1="480" y1="428.5" x2="578.5" y2="428.5"/>
</g>
<!-- arrowheads -->
<g fill="#111" stroke="none">
<path d="M190.5 62.5 l10 -2.2 v4.4z"/>
<path d="M350.5 62.5 l-10 -2.2 v4.4z"/>
<path d="M350.5 62.5 l10 -2.2 v4.4z"/>
<path d="M669 62.5 l-10 -2.2 v4.4z"/>
<path d="M46.5 152.5 l-2.2 10 h4.4z"/>
<path d="M46.5 368 l-2.2 -10 h4.4z"/>
<path d="M121.5 162.5 l-2.2 10 h4.4z"/>
<path d="M121.5 368 l-2.2 -10 h4.4z"/>
<path d="M746.5 94.5 l-2.2 10 h4.4z"/>
<path d="M746.5 368 l-2.2 -10 h4.4z"/>
<path d="M570.5 287.5 l-2.2 10 h4.4z"/>
<path d="M570.5 368 l-2.2 -10 h4.4z"/>
<path d="M570.5 369 l-2.2 10 h4.4z"/>
<path d="M570.5 428.5 l-2.2 -10 h4.4z"/>
</g>
<!-- dimension text -->
<g font-size="17.4">
<text transform="translate(270,67.8) scale(1,1.065)" text-anchor="middle">10 3/4"</text>
<text transform="translate(509.5,67.8) scale(1,1.065)" text-anchor="middle">21 3/8"</text>
<text transform="translate(47.5,266) scale(1,1.065)" text-anchor="middle">14 7/16"</text>
<text transform="translate(122,271.5) scale(1,1.065)" text-anchor="middle">13 3/4"</text>
<text transform="translate(747,237) scale(1,1.065)" text-anchor="middle">18 3/8"</text>
<text transform="translate(570,334) scale(1,1.065)" text-anchor="middle">5 7/16"</text>
<text transform="translate(570,403) scale(1,1.065)" text-anchor="middle">4 1/16"</text>
<text transform="translate(199,459.5) scale(1,1.065)" text-anchor="middle">CRANKSHAFT</text>
<text transform="translate(199,477) scale(1,1.065)" text-anchor="middle">CENTERLINE</text>
</g>
<!-- leader -->
<g fill="none" stroke="#111" stroke-width="1">
<polyline points="257,470.5 274.5,470.5 328.4,368.4"/>
<line x1="274.5" y1="470.5" x2="349" y2="410.5"/>
</g>
<!-- red centerlines -->
<g fill="none" stroke="#a8585c" stroke-width="1">
<path d="M214.4,368.5 H271.5 M277.1,368.5 H284.3 M289.9,368.5 H347.5 M353,368.5 H527"/>
<path d="M350.5,148.5 V404.8 M350.5,410.7 V457.9"/>
</g>
</svg>
</body></html>
